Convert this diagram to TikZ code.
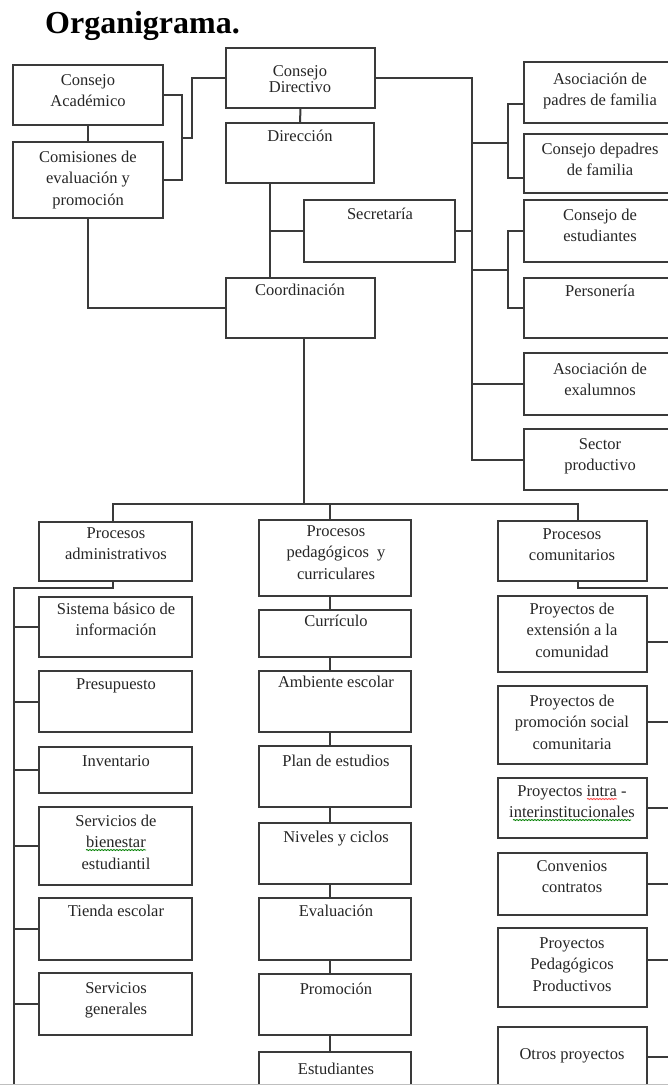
\documentclass[tikz,border=0pt]{standalone}
\usepackage{fontspec}
\setmainfont{Liberation Serif}
\usetikzlibrary{decorations.pathmorphing}
\definecolor{ln}{HTML}{3A3A3A}
\tikzset{
  box/.style={draw=ln, line width=2pt, inner sep=0pt, outer sep=0pt, rectangle},
  lbl/.style={anchor=north, inner sep=0pt, align=center, text=black!85, font=\fontsize{16.5}{21.5}\selectfont},
  conn/.style={draw=ln, line width=2pt},
  spell/.style={line width=0.8pt, decorate, decoration={snake, amplitude=0.6pt, segment length=3pt}},
}
\newcommand\mkbox[5]{\node[box, minimum width={(#4-#2)*1pt}, minimum height={(#5-#3)*1pt}] (#1) at ({(#2+#4)/2},{(#3+#5)/2}) {};}
\newcommand\mklbl[4]{\node[lbl] (#1) at (#2,{#3-15}) {\strut #4};}
\begin{document}
\begin{tikzpicture}[x=1pt,y=-1pt]
\useasboundingbox (0,0) rectangle (668,1085);
\fill[white] (0,0) rectangle (668,1085);
\clip (0,0) rectangle (668,1085);

\node[anchor=base west, inner sep=0pt, font=\fontsize{32}{32}\selectfont\bfseries] (title) at (45,33) {Organigrama.};

% top section boxes
\mkbox{ca}{13}{65}{163}{125}
\mkbox{cm}{13}{142}{163}{218}
\mkbox{cd}{226}{48}{375}{108}
\mkbox{dir}{226}{123}{374}{183}
\mkbox{sec}{304}{200}{455}{262}
\mkbox{coord}{226}{278}{375}{338}
\mkbox{ap}{524}{62}{676}{123}
\mkbox{cp}{524}{134}{676}{193}
\mkbox{ce}{524}{200}{676}{262}
\mkbox{pe}{524}{278}{676}{338}
\mkbox{ex}{524}{353}{676}{415}
\mkbox{sp}{524}{429}{676}{490}

% bottom section boxes
\mkbox{pa}{39}{522}{192}{581}
\mkbox{sbi}{39}{597}{192}{657}
\mkbox{pre}{39}{671}{192}{732}
\mkbox{inv}{39}{747}{192}{793}
\mkbox{sbe}{39}{807}{192}{885}
\mkbox{te}{39}{898}{192}{960}
\mkbox{sg}{39}{973}{192}{1035}

\mkbox{pp}{259}{520}{411}{596}
\mkbox{cur}{259}{610}{411}{657}
\mkbox{amb}{259}{671}{411}{732}
\mkbox{plan}{259}{746}{411}{807}
\mkbox{niv}{259}{823}{411}{884}
\mkbox{eva}{259}{898}{411}{960}
\mkbox{prom}{259}{974}{411}{1035}
\mkbox{est}{259}{1052}{411}{1110}

\mkbox{pc}{498}{521}{647}{581}
\mkbox{pex}{498}{596}{647}{672}
\mkbox{pps}{498}{686}{647}{764}
\mkbox{pii}{498}{778}{647}{838}
\mkbox{cc}{498}{853}{647}{915}
\mkbox{ppp}{498}{928}{647}{1007}
\mkbox{op}{498}{1027}{647}{1110}

% labels
\mklbl{ca-l}{88}{85}{Consejo\\Académico}
\mklbl{cm-l}{88}{162}{Comisiones de\\evaluación y\\promoción}
\node[lbl, font=\fontsize{16.5}{16}\selectfont] (cd-l) at (300,{76-11.2}) {\strut Consejo\\Directivo};
\mklbl{dir-l}{300}{141}{Dirección}
\mklbl{sec-l}{380}{219}{Secretaría}
\mklbl{coord-l}{300}{295}{Coordinación}
\mklbl{ap-l}{600}{84}{Asociación de\\padres de familia}
\mklbl{cp-l}{600}{154}{Consejo depadres\\de familia}
\mklbl{ce-l}{600}{220}{Consejo de\\estudiantes}
\mklbl{pe-l}{600}{296}{Personería}
\mklbl{ex-l}{600}{374}{Asociación de\\exalumnos}
\mklbl{sp-l}{600}{449}{Sector\\productivo}

\mklbl{pa-l}{116}{538}{Procesos\\administrativos}
\mklbl{sbi-l}{116}{614}{Sistema básico de\\información}
\mklbl{pre-l}{116}{689}{Presupuesto}
\mklbl{inv-l}{116}{766}{Inventario}
\mklbl{sbe-l}{116}{826}{Servicios de\\bienestar\\estudiantil}
\mklbl{te-l}{116}{916}{Tienda escolar}
\mklbl{sg-l}{116}{993}{Servicios\\generales}

\mklbl{pp-l}{336}{536}{Procesos\\pedagógicos\ \ y\\curriculares}
\mklbl{cur-l}{336}{626}{Currículo}
\mklbl{amb-l}{336}{687}{Ambiente escolar}
\mklbl{plan-l}{336}{766}{Plan de estudios}
\mklbl{niv-l}{336}{842}{Niveles y ciclos}
\mklbl{eva-l}{336}{916}{Evaluación}
\mklbl{prom-l}{336}{994}{Promoción}
\mklbl{est-l}{336}{1074}{Estudiantes}

\mklbl{pc-l}{572}{539}{Procesos\\comunitarios}
\mklbl{pex-l}{572}{614}{Proyectos de\\extensión a la\\comunidad}
\mklbl{pps-l}{572}{706}{Proyectos de\\promoción social\\comunitaria}
\mklbl{pii-l}{572}{796}{Proyectos intra -\\interinstitucionales}
\mklbl{cc-l}{572}{871}{Convenios\\contratos}
\mklbl{ppp-l}{572}{948}{Proyectos\\Pedagógicos\\Productivos}
\mklbl{op-l}{572}{1059}{Otros proyectos}

% spell-check marks
\draw[spell, red!75] (587,799) -- (617,799);
\draw[spell, green!50!black] (513,820) -- (631,820);
\draw[spell, green!50!black] (86,850) -- (146,850);

% top connectors
\draw[conn] (ca.south) -- (cm.north);
\draw[conn] (ca.east) -- ++(19,0) coordinate (bA) |- (cm.east);
\coordinate (jA) at (bA |- 0,138);
\draw[conn] (jA) -- ++(10,0) |- (cd.west);
\draw[conn] (cd.south) -- (dir.north);
\draw[conn] ([xshift=-30pt]dir.south) coordinate (dv) -- (dv |- coord.north);
\draw[conn] (sec.west) -- (dv |- sec.west);
\draw[conn] (cm.south) |- (coord.west);
\draw[conn] (cd.east) -- ++(97,0) coordinate (rb) |- (sp.west);
\draw[conn] (ex.west) -- (rb |- ex.west);
\draw[conn] (sec.east) -- (rb |- sec.east);
\coordinate (b1) at (508,143);
\draw[conn] (rb |- b1) -- (b1);
\draw[conn] ([yshift=-11.5pt]ap.west) -| (b1) |- ([yshift=-14.5pt]cp.west);
\coordinate (b2) at (508,270);
\draw[conn] (rb |- b2) -- (b2);
\draw[conn] (ce.west) -| (b2) |- (pe.west);

% bus
\coordinate (busL) at (113,504);
\coordinate (busR) at (578,504);
\draw[conn] ([xshift=3pt]coord.south) -- ([xshift=3pt]coord.south |- busL);
\draw[conn] (pa.north -| busL) -- (busL) -- (busR) -- (pc.north -| busR);
\draw[conn] ([xshift=-5pt]pp.north) -- ([xshift=-5pt]pp.north |- busL);

% left branch
\coordinate (lb) at (14,1095);
\draw[conn] (pa.south -| busL) -- ++(0,7) -| (lb);
\foreach \n in {sbi,pre,inv,sbe,te,sg} \draw[conn] (\n.west) -- (\n.west -| lb);

% middle chain
\foreach \a/\b in {pp/cur,cur/amb,amb/plan,plan/niv,niv/eva,eva/prom,prom/est}
  \draw[conn] ([xshift=-5pt]\a.south) -- ([xshift=-5pt]\b.north);

% right branch
\coordinate (rb2) at (672,1095);
\draw[conn] (pc.south -| busR) -- ++(0,7) -| (rb2);
\draw[conn] ([yshift=-8pt]pex.east) -- ([yshift=-8pt]pex.east -| rb2);
\draw[conn] ([yshift=3pt]pps.east) -- ([yshift=3pt]pps.east -| rb2);
\draw[conn] (pii.east) -- (pii.east -| rb2);
\draw[conn] (cc.east) -- (cc.east -| rb2);
\draw[conn] ([yshift=7.5pt]ppp.east) -- ([yshift=7.5pt]ppp.east -| rb2);
\draw[conn] ([yshift=11.5pt]op.east) -- ([yshift=11.5pt]op.east -| rb2);

\draw[black!25, line width=1pt] (0,1084) -- (668,1084);
\end{tikzpicture}
\end{document}
